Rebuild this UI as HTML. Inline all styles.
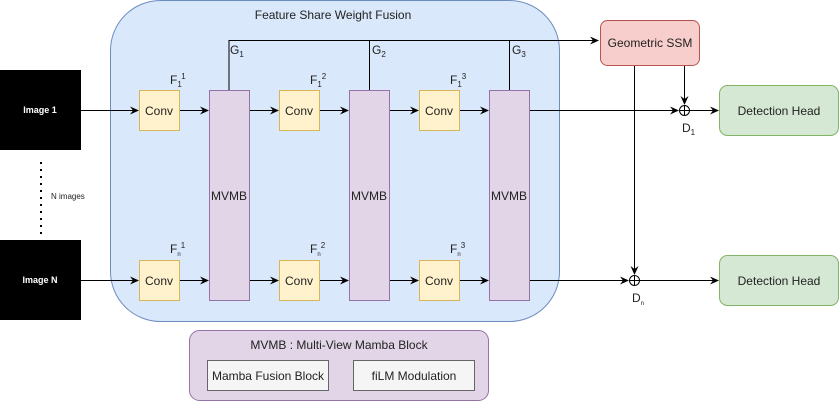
<!DOCTYPE html>
<html><head><meta charset="utf-8"><style>body{margin:0;background:#fff}svg{display:block}text{font-family:"Liberation Sans",sans-serif;fill:#222}</style></head><body>
<svg width="840" height="402" viewBox="0 0 840 402" xmlns="http://www.w3.org/2000/svg">
<defs><marker id="a" markerWidth="10" markerHeight="10" refX="8" refY="5" orient="auto" markerUnits="userSpaceOnUse"><path d="M0,1 L9,5 L0,9 L3,5 Z" fill="#000"/></marker></defs>
<rect x="110.5" y="0.5" width="449" height="321" rx="50" fill="#dae8fc" stroke="#6c8ebf"/>
<text x="333" y="19" font-size="12" text-anchor="middle">Feature Share Weight Fusion</text>
<rect x="0" y="70" width="81" height="80" fill="#000"/>
<text x="40" y="113" font-size="9" font-weight="bold" text-anchor="middle" style="fill:#fff">Image 1</text>
<rect x="0" y="240" width="81" height="80" fill="#000"/>
<text x="40" y="283" font-size="9" font-weight="bold" text-anchor="middle" style="fill:#fff">Image N</text>
<line x1="41" y1="162" x2="41" y2="236" stroke="#000" stroke-width="2" stroke-dasharray="2,5"/>
<text x="51" y="199" font-size="8">N images</text>
<g stroke="#000" fill="none">
<path d="M229,90 V40.5 H598" marker-end="url(#a)"/>
<path d="M369.5,90 V40"/><path d="M509.5,90 V40"/>
<path d="M81,110.5 H138" marker-end="url(#a)"/><path d="M179,110.5 H208" marker-end="url(#a)"/>
<path d="M249,110.5 H278" marker-end="url(#a)"/><path d="M319,110.5 H348" marker-end="url(#a)"/>
<path d="M389,110.5 H418" marker-end="url(#a)"/><path d="M459,110.5 H488" marker-end="url(#a)"/>
<path d="M529,110.5 H678" marker-end="url(#a)"/><path d="M689,110.5 H718" marker-end="url(#a)"/>
<path d="M81,280.5 H138" marker-end="url(#a)"/><path d="M179,280.5 H208" marker-end="url(#a)"/>
<path d="M249,280.5 H278" marker-end="url(#a)"/><path d="M319,280.5 H348" marker-end="url(#a)"/>
<path d="M389,280.5 H418" marker-end="url(#a)"/><path d="M459,280.5 H488" marker-end="url(#a)"/>
<path d="M529,280.5 H628" marker-end="url(#a)"/><path d="M639,280.5 H718" marker-end="url(#a)"/>
<path d="M684.5,65 V104" marker-end="url(#a)"/><path d="M634.5,65 V274" marker-end="url(#a)"/>
<circle cx="684.5" cy="110.5" r="5" fill="#fff"/><path d="M679.5,110.5 H689.5 M684.5,105.5 V115.5"/>
<circle cx="634.5" cy="280.5" r="5" fill="#fff"/><path d="M629.5,280.5 H639.5 M634.5,275.5 V285.5"/>
</g>
<g fill="#fff2cc" stroke="#d6b656">
<rect x="139.5" y="90.5" width="40" height="40"/><rect x="279.5" y="90.5" width="40" height="40"/><rect x="419.5" y="90.5" width="40" height="40"/>
<rect x="139.5" y="260.5" width="40" height="40"/><rect x="279.5" y="260.5" width="40" height="40"/><rect x="419.5" y="260.5" width="40" height="40"/>
</g>
<g font-size="12" text-anchor="middle">
<text x="159" y="115">Conv</text><text x="299" y="115">Conv</text><text x="439" y="115">Conv</text>
<text x="159" y="285">Conv</text><text x="299" y="285">Conv</text><text x="439" y="285">Conv</text>
</g>
<g fill="#e1d5e7" stroke="#9673a6">
<rect x="209.5" y="90.5" width="40" height="210"/><rect x="349.5" y="90.5" width="40" height="210"/><rect x="489.5" y="90.5" width="40" height="210"/>
</g>
<g font-size="12" text-anchor="middle"><text x="229" y="200">MVMB</text><text x="369" y="200">MVMB</text><text x="509" y="200">MVMB</text></g>
<g font-size="12">
<text x="170" y="84">F<tspan font-size="8" dy="3">1</tspan><tspan font-size="8" dy="-8">1</tspan></text>
<text x="310" y="84">F<tspan font-size="8" dy="3">1</tspan><tspan font-size="8" dy="-8">2</tspan></text>
<text x="450" y="84">F<tspan font-size="8" dy="3">1</tspan><tspan font-size="8" dy="-8">3</tspan></text>
<text x="170" y="253">F<tspan font-size="6" dy="3">n</tspan><tspan font-size="8" dy="-8">1</tspan></text>
<text x="310" y="253">F<tspan font-size="6" dy="3">n</tspan><tspan font-size="8" dy="-8">2</tspan></text>
<text x="450" y="253">F<tspan font-size="6" dy="3">n</tspan><tspan font-size="8" dy="-8">3</tspan></text>
<text x="230" y="54">G<tspan font-size="8" dy="3">1</tspan></text>
<text x="372" y="54">G<tspan font-size="8" dy="3">2</tspan></text>
<text x="512" y="54">G<tspan font-size="8" dy="3">3</tspan></text>
<text x="682" y="132">D<tspan font-size="8" dy="3">1</tspan></text>
<text x="632" y="302">D<tspan font-size="6" dy="3">n</tspan></text>
</g>
<rect x="600.5" y="20.5" width="99" height="45" rx="7" fill="#f8cecc" stroke="#b85450"/>
<text x="650" y="47" font-size="12" text-anchor="middle">Geometric SSM</text>
<rect x="719.5" y="85.5" width="119" height="50" rx="8" fill="#d5e8d4" stroke="#82b366"/>
<text x="779" y="115" font-size="12" text-anchor="middle">Detection Head</text>
<rect x="719.5" y="255.5" width="119" height="50" rx="8" fill="#d5e8d4" stroke="#82b366"/>
<text x="779" y="285" font-size="12" text-anchor="middle">Detection Head</text>
<rect x="189.5" y="330.5" width="299" height="70" rx="10" fill="#e1d5e7" stroke="#9673a6"/>
<text x="339" y="349" font-size="12" text-anchor="middle">MVMB : Multi-View Mamba Block</text>
<rect x="207.5" y="360.5" width="121" height="30" fill="#f5f5f5" stroke="#666"/>
<text x="268" y="380" font-size="12" text-anchor="middle">Mamba Fusion Block</text>
<rect x="353.5" y="360.5" width="121" height="30" fill="#f5f5f5" stroke="#666"/>
<text x="414" y="380" font-size="12" text-anchor="middle">fiLM Modulation</text>
</svg>
</body></html>
